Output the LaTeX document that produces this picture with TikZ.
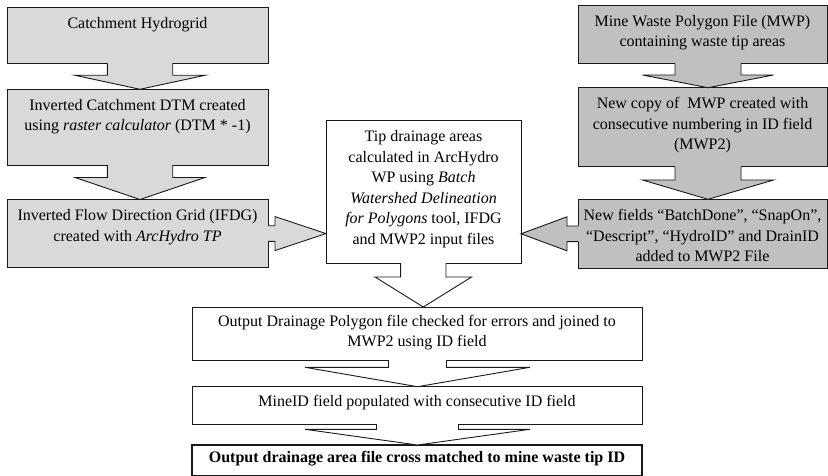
\documentclass[tikz,border=0pt]{standalone}
\usepackage{fontspec}
\setmainfont{Liberation Serif}
\usetikzlibrary{calc}
\definecolor{lgray}{RGB}{217,217,217}
\definecolor{dgray}{RGB}{192,192,192}
\definecolor{edgec}{RGB}{25,25,25}

% block arrow pointing down: #1 from anchor, #2 to anchor, #3 x offset, #4 stem half, #5 head half, #6 head length, #7 fill colour
\newcommand\bdown[7]{%
  \fill[#7] let \p1=(#1), \p2=(#2) in
    (\x2+#3pt-#4pt,\y1+1pt) -- (\x2+#3pt-#4pt,\y2+#6pt) -- (\x2+#3pt-#5pt,\y2+#6pt) -- (\x2+#3pt,\y2)
    -- (\x2+#3pt+#5pt,\y2+#6pt) -- (\x2+#3pt+#4pt,\y2+#6pt) -- (\x2+#3pt+#4pt,\y1+1pt) -- cycle;
  \draw[edgeline] let \p1=(#1), \p2=(#2) in
    (\x2+#3pt-#4pt,\y1) -- (\x2+#3pt-#4pt,\y2+#6pt) -- (\x2+#3pt-#5pt,\y2+#6pt) -- (\x2+#3pt,\y2)
    -- (\x2+#3pt+#5pt,\y2+#6pt) -- (\x2+#3pt+#4pt,\y2+#6pt) -- (\x2+#3pt+#4pt,\y1);}
% block arrow pointing right: #1 from (east), #2 to (west), #3 y offset, #4 stem half, #5 head half, #6 head length, #7 fill
\newcommand\bright[7]{%
  \fill[#7] let \p1=(#1), \p2=(#2) in
    (\x1-1pt,\y1+#3pt+#4pt) -- (\x2-#6pt,\y1+#3pt+#4pt) -- (\x2-#6pt,\y1+#3pt+#5pt) -- (\x2,\y1+#3pt)
    -- (\x2-#6pt,\y1+#3pt-#5pt) -- (\x2-#6pt,\y1+#3pt-#4pt) -- (\x1-1pt,\y1+#3pt-#4pt) -- cycle;
  \draw[edgeline] let \p1=(#1), \p2=(#2) in
    (\x1,\y1+#3pt+#4pt) -- (\x2-#6pt,\y1+#3pt+#4pt) -- (\x2-#6pt,\y1+#3pt+#5pt) -- (\x2,\y1+#3pt)
    -- (\x2-#6pt,\y1+#3pt-#5pt) -- (\x2-#6pt,\y1+#3pt-#4pt) -- (\x1,\y1+#3pt-#4pt);}
% block arrow pointing left
\newcommand\bleft[7]{%
  \fill[#7] let \p1=(#1), \p2=(#2) in
    (\x1+1pt,\y1+#3pt+#4pt) -- (\x2+#6pt,\y1+#3pt+#4pt) -- (\x2+#6pt,\y1+#3pt+#5pt) -- (\x2,\y1+#3pt)
    -- (\x2+#6pt,\y1+#3pt-#5pt) -- (\x2+#6pt,\y1+#3pt-#4pt) -- (\x1+1pt,\y1+#3pt-#4pt) -- cycle;
  \draw[edgeline] let \p1=(#1), \p2=(#2) in
    (\x1,\y1+#3pt+#4pt) -- (\x2+#6pt,\y1+#3pt+#4pt) -- (\x2+#6pt,\y1+#3pt+#5pt) -- (\x2,\y1+#3pt)
    -- (\x2+#6pt,\y1+#3pt-#5pt) -- (\x2+#6pt,\y1+#3pt-#4pt) -- (\x1,\y1+#3pt-#4pt);}

\begin{document}
\begin{tikzpicture}[x=1pt,y=-1pt,
  edgeline/.style={draw=edgec,line width=0.9pt,line join=miter},
  box/.style={edgeline,inner sep=0pt,outer sep=0pt,rectangle},
  lbox/.style={box,fill=lgray},
  dbox/.style={box,fill=dgray},
  wbox/.style={box,fill=white},
  txt/.style={inner sep=0pt,outer sep=0pt,align=center,anchor=north,
    font=\fontsize{16}{20.5}\selectfont}]
\useasboundingbox (0,0) rectangle (828,476);

% left column
\node[lbox,minimum width=261,minimum height=56] (L1) at (137.5,35.3) {};
\node[lbox,minimum width=261,minimum height=75.7] (L2) at (137.5,127.15) {};
\node[lbox,minimum width=261,minimum height=68.2] (L3) at (137.5,233.6) {};
% right column
\node[dbox,minimum width=249,minimum height=58.3] (R1) at (702.5,34.15) {};
\node[dbox,minimum width=249,minimum height=79] (R2) at (702.5,127.2) {};
\node[dbox,minimum width=249,minimum height=69] (R3) at (702.5,233.8) {};
% centre
\node[wbox,minimum width=195,minimum height=142.3] (C) at (423.5,191.85) {};
% bottom
\node[wbox,minimum width=450,minimum height=53] (B1) at (417,333.5) {};
\node[wbox,minimum width=450,minimum height=37.3] (B2) at (417,405.35) {};
\node[wbox,minimum width=450,minimum height=30.3,line width=1.4pt] (B3) at (417,460.15) {};

% arrows
\bdown{L1.south}{L2.north}{2.5}{32.7}{65}{14}{lgray}
\bdown{L2.south}{L3.north}{2.5}{32.7}{65}{22}{lgray}
\bdown{R1.south}{R2.north}{5.5}{33}{65.5}{12.7}{dgray}
\bdown{R2.south}{R3.north}{5.5}{33}{65.5}{19.3}{dgray}
\bright{L3.east}{C.west}{0}{7.8}{17}{51}{lgray}
\bleft{R3.west}{C.east}{0}{7.8}{17}{46}{dgray}
\bdown{C.south}{B1.north}{6.3}{22.7}{48.3}{30}{white}
\bdown{B1.south}{B2.north}{0.5}{29}{112.5}{19.4}{white}
\bdown{B2.south}{B3.north}{0.5}{41}{112.5}{15.7}{white}

% texts
\node[txt] (L1t) at ([yshift=-10pt]L1.north) {Catchment Hydrogrid};
\node[txt] (L2t) at ([yshift=-10pt]L2.north) {Inverted Catchment DTM created\\using \textit{raster calculator} (DTM * -1)};
\node[txt] (L3t) at ([yshift=-10pt]L3.north) {Inverted Flow Direction Grid (IFDG)\\created with \textit{ArcHydro TP}};
\node[txt] (R1t) at ([yshift=-10pt]R1.north) {Mine Waste Polygon File (MWP)\\containing waste tip areas};
\node[txt] (R2t) at ([yshift=-10pt]R2.north) {New copy of \ MWP created with\\consecutive numbering in ID field\\(MWP2)};
\node[txt] (R3t) at ([yshift=-10pt]R3.north) {New fields “BatchDone”, “SnapOn”,\\“Descript”, “HydroID” and DrainID\\added to MWP2 File};
\node[txt] (Ct) at ([yshift=-10pt]C.north) {Tip drainage areas\\calculated in ArcHydro\\WP using \textit{Batch}\\\textit{Watershed Delineation}\\\textit{for Polygons} tool, IFDG\\and MWP2 input files};
\node[txt] (B1t) at ([yshift=-8pt]B1.north) {Output Drainage Polygon file checked for errors and joined to\\MWP2 using ID field};
\node[txt] (B2t) at ([yshift=-9pt]B2.north) {MineID field populated with consecutive ID field};
\node[txt,anchor=center] (B3t) at ([yshift=2pt]B3.center) {\bfseries Output drainage area file cross matched to mine waste tip ID};
\end{tikzpicture}
\end{document}
